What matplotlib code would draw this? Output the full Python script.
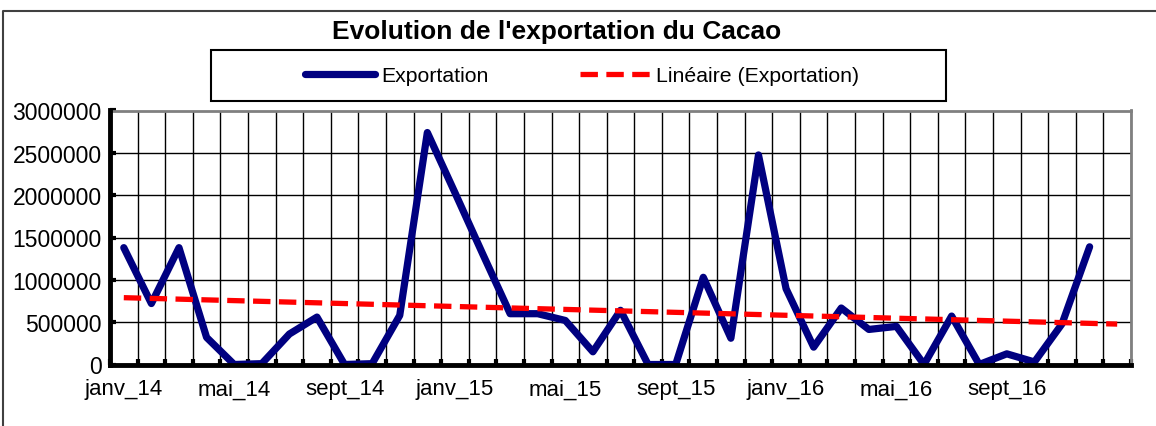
import matplotlib.pyplot as plt
import numpy as np
from matplotlib.lines import Line2D
from matplotlib.patches import Rectangle

plt.rcParams['font.family'] = ['Liberation Sans', 'DejaVu Sans']

# mois de janv_14 à déc_16 (+ une catégorie vide en fin d'axe)
mois = ['janv_14', 'févr_14', 'mars_14', 'avr_14', 'mai_14', 'juin_14',
        'juil_14', 'août_14', 'sept_14', 'oct_14', 'nov_14', 'déc_14',
        'janv_15', 'févr_15', 'mars_15', 'avr_15', 'mai_15', 'juin_15',
        'juil_15', 'août_15', 'sept_15', 'oct_15', 'nov_15', 'déc_15',
        'janv_16', 'févr_16', 'mars_16', 'avr_16', 'mai_16', 'juin_16',
        'juil_16', 'août_16', 'sept_16', 'oct_16', 'nov_16', 'déc_16', '']

exportation = [1380000, 720000, 1380000, 320000, 0, 10000,
               360000, 560000, 0, 10000, 580000, 2740000,
               2030000, 1310000, 600000, 600000, 520000, 150000,
               640000, 0, 0, 1030000, 310000, 2475000,
               895000, 205000, 667000, 414000, 450000, 0,
               572000, 0, 126000, 30000, 480000, 1390000]

W, H = 1156, 427
fig = plt.figure(figsize=(W / 100, H / 100), dpi=100)
ax = fig.add_axes([110 / W, 1 - 365.5 / H, (1131 - 110) / W, (365.5 - 111.5) / H])

x = np.arange(len(exportation))
ax.plot(x, exportation, color='#000080', lw=5.2, solid_joinstyle='round',
        solid_capstyle='round', label='Exportation', zorder=3)

# courbe de tendance linéaire (moindres carrés)
coef = np.polyfit(x, exportation, 1)
xt = np.arange(len(mois))
ax.plot(xt, np.polyval(coef, xt), color='#ff0000', lw=3.8, dashes=(3.3, 1.6),
        label='Linéaire (Exportation)', zorder=4)

ax.set_xlim(-0.5, len(mois) - 0.5)
ax.set_ylim(0, 3000000)

ax.set_xticks(x[::4])
ax.set_xticklabels(mois[:36:4])
ax.set_xticks(np.arange(-0.5, len(mois)), minor=True)
ax.tick_params(axis='x', which='major', length=0, pad=10, labelsize=16)
ax.tick_params(axis='x', which='minor', direction='in', length=4, width=3)
ax.grid(True, which='minor', axis='x', color='black', lw=1)

ax.set_yticks(np.arange(0, 3000001, 500000))
ax.yaxis.set_major_formatter(lambda v, p: f'{int(v)}')
ax.tick_params(axis='y', direction='in', length=4, width=3, pad=6, labelsize=16.5)
ax.grid(True, which='major', axis='y', color='black', lw=1)
ax.set_axisbelow(True)

for s in ['left', 'bottom']:
    ax.spines[s].set_linewidth(3.5)
    ax.spines[s].set_color('black')
    ax.spines[s].set_zorder(5)
for s in ['top', 'right']:
    ax.spines[s].set_linewidth(2)
    ax.spines[s].set_color('#808080')

fig.text(557 / W, 1 - 32 / H, "Evolution de l'exportation du Cacao",
         ha='center', va='center', fontsize=19, fontweight='bold')

# cadre de la légende
fig.add_artist(Rectangle((211 / W, 1 - 102 / H), (946 - 211) / W, 51 / H,
                         transform=fig.transFigure, fill=False,
                         ec='black', lw=1.5))
handles, labels = ax.get_legend_handles_labels()
fig.legend(handles, labels, loc='center', bbox_to_anchor=(582 / W, 1 - 76.5 / H),
           ncol=2, frameon=False, fontsize=15.3, handlelength=3.3,
           handletextpad=0.3, columnspacing=4.3)

# bordure de la zone de graphique
fig.add_artist(Line2D([3 / W, 3 / W, 1.0], [0, 1 - 12 / H, 1 - 12 / H],
                      transform=fig.transFigure, color='#404040', lw=1.5))

fig.savefig('out.png', dpi=100)
